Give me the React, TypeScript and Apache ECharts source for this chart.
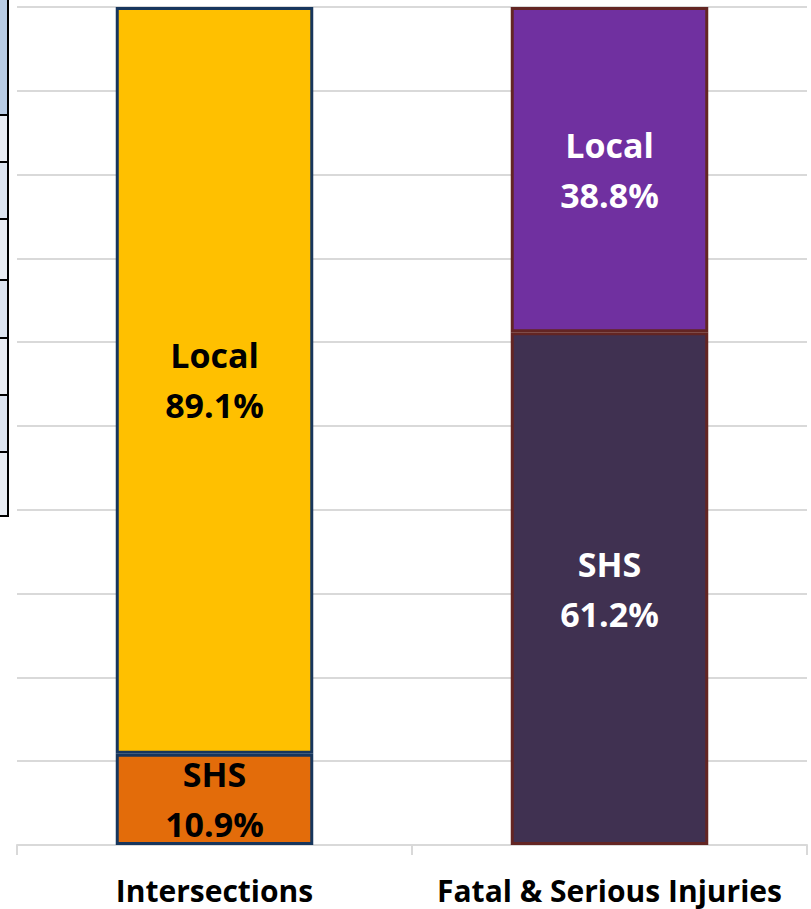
import React, { useEffect, useRef } from "react";
import * as echarts from "echarts";

const categories = ["Intersections", "Fatal & Serious Injuries"];
const shsValues = [10.9, 61.2];
const localValues = [89.1, 38.8];
const yTicks = [0, 10, 20, 30, 40, 50, 60, 70, 80, 90, 100];

const shsColors = ["#E36C0A", "#403151"];
const localColors = ["#FFC000", "#7030A0"];
const borderColors = ["#17365D", "#632523"];
const labelColors = ["#000000", "#FFFFFF"];

export default function App() {
  const ref = useRef<HTMLDivElement>(null);
  useEffect(() => {
    const chart = echarts.init(ref.current!, null, { renderer: "svg" });
    const labelBase = {
      show: true,
      position: "inside",
      fontFamily: "Open Sans",
      fontWeight: "bold",
      fontSize: 34,
      lineHeight: 50,
      formatter: (p: any) => `${p.seriesName}\n${p.value.toFixed(1)}%`,
    };
    const mk = (vals: number[], colors: string[]) =>
      vals.map((v, i) => ({
        value: v,
        itemStyle: { color: colors[i], borderColor: borderColors[i], borderWidth: 3 },
        label: { color: labelColors[i] },
      }));
    const rowLines = [115, 162, 219, 280, 338, 395, 452, 516];
    const graphics: any[] = [
      { type: "rect", shape: { x: 0, y: 0, width: 8, height: 115 }, style: { fill: "#B8CCE4" } },
    ];
    for (let i = 0; i < rowLines.length - 1; i++) {
      graphics.push({
        type: "rect",
        shape: { x: 0, y: rowLines[i], width: 8, height: rowLines[i + 1] - rowLines[i] },
        style: { fill: i % 2 === 0 ? "#E9EDF4" : "#DCE4F0" },
      });
    }
    rowLines.forEach((y) =>
      graphics.push({ type: "line", shape: { x1: 0, y1: y, x2: 9, y2: y }, style: { stroke: "#000", lineWidth: 2 } })
    );
    graphics.push({ type: "line", shape: { x1: 8, y1: 0, x2: 8, y2: 517 }, style: { stroke: "#000", lineWidth: 2 } });

    chart.setOption({
      animation: false,
      backgroundColor: "#FFFFFF",
      grid: { left: 17, right: 4, top: 7, bottom: 64, containLabel: false },
      xAxis: {
        type: "category",
        data: categories,
        axisLine: { lineStyle: { color: "#D9D9D9", width: 2 } },
        axisTick: { show: true, length: 10, lineStyle: { color: "#D9D9D9", width: 2 } },
        axisLabel: {
          interval: 0,
          color: "#000",
          fontFamily: "Open Sans",
          fontWeight: "bold",
          fontSize: 30,
          margin: 30,
        },
      },
      yAxis: {
        type: "value",
        min: 0,
        max: 100,
        interval: yTicks[1] - yTicks[0],
        axisLabel: { show: false },
        axisLine: { show: false },
        axisTick: { show: false },
        splitLine: { lineStyle: { color: "#D9D9D9", width: 2 } },
      },
      series: [
        { name: "SHS", type: "bar", stack: "t", barWidth: "50%", data: mk(shsValues, shsColors), label: labelBase },
        { name: "Local", type: "bar", stack: "t", barWidth: "50%", data: mk(localValues, localColors), label: labelBase },
      ],
      graphic: graphics,
    });
    return () => chart.dispose();
  }, []);
  return <div ref={ref} style={{ position: "fixed", left: 0, top: 0, width: 811, height: 909 }} />;
}
